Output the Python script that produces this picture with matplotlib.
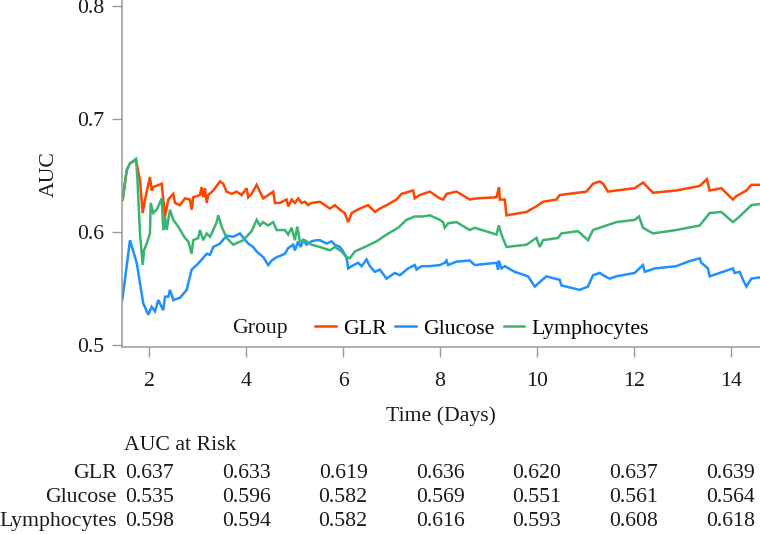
import matplotlib
matplotlib.use("Agg")
import matplotlib.pyplot as plt
from matplotlib.lines import Line2D
from matplotlib.transforms import blended_transform_factory

plt.rcParams['font.family'] = ['Liberation Serif', 'DejaVu Serif']

groups = ["GLR", "Glucose", "Lymphocytes"]
colors = {"GLR": "#FF4500", "Glucose": "#1E90FF", "Lymphocytes": "#3CB371"}

glr_t = [1.452, 1.534, 1.602, 1.726, 1.808, 1.864, 1.911, 2.014, 2.049, 2.082, 2.256, 2.324, 2.392, 2.495, 2.530,
         2.633, 2.736, 2.839, 2.874, 2.907, 3.045, 3.080, 3.113, 3.148, 3.184, 3.216, 3.320, 3.458, 3.526, 3.596,
         3.699, 3.802, 3.905, 4.008, 4.041, 4.111, 4.214, 4.282, 4.351, 4.454, 4.557, 4.592, 4.695, 4.833, 4.866,
         4.936, 5.004, 5.072, 5.142, 5.210, 5.278, 5.348, 5.520, 5.726, 5.829, 5.932, 6.035, 6.103, 6.173, 6.344,
         6.515, 6.654, 6.757, 6.895, 7.101, 7.204, 7.443, 7.478, 7.581, 7.788, 7.994, 8.062, 8.132, 8.338, 8.612,
         8.750, 9.163, 9.216, 9.231, 9.334, 9.369, 9.781, 9.988, 10.124, 10.400, 10.468, 11.019, 11.155, 11.293,
         11.361, 11.464, 11.637, 12.014, 12.186, 12.392, 12.874, 13.355, 13.505, 13.561, 13.802, 14.041, 14.113,
         14.318, 14.421, 14.592]
glr_auc = [0.629, 0.655, 0.661, 0.664, 0.646, 0.617, 0.629, 0.649, 0.637, 0.640, 0.643, 0.614, 0.629, 0.634, 0.626,
           0.624, 0.630, 0.629, 0.620, 0.631, 0.633, 0.640, 0.631, 0.639, 0.626, 0.633, 0.637, 0.645, 0.643, 0.636,
           0.634, 0.636, 0.633, 0.639, 0.631, 0.634, 0.642, 0.636, 0.630, 0.633, 0.636, 0.626, 0.626, 0.629, 0.623,
           0.629, 0.626, 0.630, 0.626, 0.627, 0.624, 0.626, 0.627, 0.621, 0.624, 0.620, 0.617, 0.609, 0.617, 0.621,
           0.624, 0.618, 0.621, 0.624, 0.629, 0.634, 0.637, 0.630, 0.633, 0.636, 0.630, 0.629, 0.634, 0.636, 0.629,
           0.630, 0.631, 0.640, 0.629, 0.629, 0.615, 0.618, 0.623, 0.627, 0.629, 0.633, 0.636, 0.643, 0.645,
           0.643, 0.636, 0.637, 0.639, 0.644, 0.635, 0.637, 0.641, 0.647, 0.637, 0.639, 0.629, 0.632,
           0.637, 0.642, 0.642]

glu_t = [1.443, 1.602, 1.740, 1.808, 1.876, 1.979, 2.049, 2.118, 2.186, 2.289, 2.324, 2.392, 2.427, 2.495, 2.633,
         2.771, 2.874, 2.977, 3.045, 3.184, 3.252, 3.320, 3.458, 3.596, 3.732, 3.870, 4.041, 4.144, 4.214, 4.351,
         4.454, 4.524, 4.627, 4.695, 4.798, 4.866, 4.969, 5.004, 5.072, 5.122, 5.175, 5.245, 5.348, 5.452, 5.520,
         5.658, 5.761, 5.829, 5.932, 6.000, 6.070, 6.103, 6.173, 6.309, 6.379, 6.482, 6.551, 6.654, 6.757, 6.895,
         7.066, 7.169, 7.340, 7.478, 7.513, 7.616, 7.788, 7.994, 8.097, 8.132, 8.165, 8.338, 8.612, 8.715, 9.163,
         9.196, 9.210, 9.266, 9.334, 9.540, 9.814, 9.953, 10.056, 10.194, 10.365, 10.468, 10.503, 10.880, 11.052,
         11.155, 11.293, 11.361, 11.499, 11.637, 12.014, 12.186, 12.221, 12.427, 12.874, 13.113, 13.355, 13.390,
         13.526, 13.561, 14.041, 14.076, 14.181, 14.249, 14.318, 14.421, 14.592]
glu_auc = [0.540, 0.593, 0.573, 0.555, 0.537, 0.527, 0.534, 0.530, 0.540, 0.531, 0.543, 0.543, 0.549, 0.540, 0.542,
           0.549, 0.567, 0.571, 0.574, 0.581, 0.580, 0.587, 0.590, 0.597, 0.596, 0.599, 0.590, 0.587, 0.583, 0.578,
           0.571, 0.575, 0.578, 0.579, 0.581, 0.586, 0.589, 0.584, 0.592, 0.587, 0.593, 0.589, 0.592, 0.593, 0.593,
           0.590, 0.592, 0.589, 0.587, 0.583, 0.578, 0.568, 0.570, 0.573, 0.570, 0.576, 0.570, 0.565, 0.567, 0.559,
           0.564, 0.562, 0.568, 0.571, 0.567, 0.570, 0.570, 0.571, 0.573, 0.575, 0.571, 0.574, 0.575, 0.571, 0.573,
           0.567, 0.575, 0.568, 0.570, 0.565, 0.561, 0.552, 0.556, 0.561, 0.559, 0.558, 0.553, 0.549, 0.552,
           0.562, 0.564, 0.562, 0.559, 0.561, 0.564, 0.571, 0.565, 0.568, 0.570, 0.574, 0.577, 0.573,
           0.568, 0.561, 0.568, 0.564, 0.565, 0.558, 0.552, 0.559, 0.560]

lym_t = [1.452, 1.534, 1.602, 1.726, 1.753, 1.808, 1.864, 1.891, 1.946, 2.014, 2.029, 2.082, 2.153, 2.256, 2.289,
         2.324, 2.359, 2.427, 2.495, 2.598, 2.736, 2.804, 2.874, 2.907, 3.010, 3.045, 3.113, 3.184, 3.252, 3.320,
         3.390, 3.423, 3.493, 3.596, 3.732, 3.938, 4.111, 4.214, 4.282, 4.351, 4.454, 4.557, 4.627, 4.798, 4.866,
         4.936, 5.004, 5.052, 5.107, 5.210, 5.348, 5.520, 5.726, 5.829, 5.967, 6.070, 6.138, 6.241, 6.447, 6.689,
         6.895, 7.134, 7.307, 7.478, 7.649, 7.788, 7.994, 8.062, 8.097, 8.165, 8.338, 8.612, 8.715, 9.163, 9.210,
         9.266, 9.369, 9.781, 9.988, 10.056, 10.124, 10.433, 10.503, 10.845, 11.052, 11.155, 11.293, 11.637, 12.014,
         12.103, 12.186, 12.392, 12.874, 13.355, 13.561, 13.802, 14.041, 14.181, 14.421, 14.592]
lym_auc = [0.629, 0.655, 0.661, 0.665, 0.649, 0.599, 0.571, 0.584, 0.590, 0.599, 0.626, 0.617, 0.620, 0.630, 0.602,
           0.614, 0.602, 0.620, 0.611, 0.605, 0.595, 0.592, 0.581, 0.593, 0.595, 0.602, 0.593, 0.599, 0.596, 0.602,
           0.609, 0.615, 0.605, 0.595, 0.589, 0.593, 0.601, 0.611, 0.606, 0.609, 0.606, 0.609, 0.602, 0.602, 0.598,
           0.604, 0.593, 0.605, 0.592, 0.593, 0.589, 0.587, 0.584, 0.587, 0.583, 0.578, 0.577, 0.583, 0.587, 0.592,
           0.598, 0.604, 0.611, 0.614, 0.614, 0.615, 0.611, 0.609, 0.604, 0.608, 0.609, 0.602, 0.604, 0.598, 0.606,
           0.598, 0.587, 0.589, 0.595, 0.587, 0.593, 0.595, 0.599, 0.601, 0.593, 0.602, 0.604, 0.609, 0.611,
           0.614, 0.604, 0.599, 0.602, 0.606, 0.617, 0.618, 0.609, 0.614, 0.624, 0.625]

risk_times = [2, 4, 6, 8, 10, 12, 14]
risk_glr = ["0.637", "0.633", "0.619", "0.636", "0.620", "0.637", "0.639"]
risk_glu = ["0.535", "0.596", "0.582", "0.569", "0.551", "0.561", "0.564"]
risk_lym = ["0.598", "0.594", "0.582", "0.616", "0.593", "0.608", "0.618"]

y_ticks = [0.5, 0.6, 0.7, 0.8]
x_ticks = [2, 4, 6, 8, 10, 12, 14]

series = {"GLR": (glr_t, glr_auc), "Glucose": (glu_t, glu_auc), "Lymphocytes": (lym_t, lym_auc)}

FS = 15.7
TXT = "#1a1a1a"
W, H = 760, 534
fig = plt.figure(figsize=(W / 100, H / 100), dpi=100)
ax = fig.add_axes([122 / W, 1 - 347.3 / H, 1 - 122 / W, 347.3 / H])

for g in groups:
    t, v = series[g]
    ax.plot(t, v, color=colors[g], lw=1.8, solid_joinstyle='miter')

ax.set_xlim(1.437, 14.6)
ax.set_ylim(0.4982, 0.8056)
ax.set_xticks(x_ticks)
ax.set_yticks(y_ticks)
ax.set_yticklabels([f"{v:.1f}" for v in y_ticks])
for s in ["top", "right"]:
    ax.spines[s].set_visible(False)
for s in ["left", "bottom"]:
    ax.spines[s].set_color("#9a9a9a")
    ax.spines[s].set_linewidth(1.1)
ax.tick_params(axis="both", direction="out", length=7, width=1.0, color="#9a9a9a",
               labelsize=FS, labelcolor=TXT)
ax.tick_params(axis="x", pad=11)
ax.tick_params(axis="y", pad=6)
ax.set_xlabel("Time (Days)", fontsize=FS, color=TXT, labelpad=11)
ax.set_ylabel("AUC", fontsize=FS, color=TXT, labelpad=13)

# legend
ax.text((232 - 122) / 638, 0.054, "Group", transform=ax.transAxes, fontsize=FS,
        color=TXT, va="center", ha="left")
handles = [Line2D([0], [0], color=colors[g], lw=1.8) for g in groups]
ax.legend(handles, groups, loc="center left", bbox_to_anchor=((315 - 122) / 638, 0.054), ncol=3,
          frameon=False, fontsize=FS, handlelength=0.95, handletextpad=0.32, columnspacing=0.42,
          borderpad=0, borderaxespad=0)

# risk table
tr = blended_transform_factory(ax.transData, fig.transFigure)
fig.text(124 / W, 1 - 446 / H, "AUC at Risk", fontsize=FS, color=TXT, ha="left", va="center")
rows = [("GLR", risk_glr, 474), ("Glucose", risk_glu, 498), ("Lymphocytes", risk_lym, 521.5)]
for name, vals, ypx in rows:
    fig.text(117 / W, 1 - ypx / H, name, fontsize=FS, color=TXT, ha="right", va="center")
    for tt, vv in zip(risk_times, vals):
        fig.text(tt, 1 - ypx / H, vv, transform=tr, fontsize=FS, color=TXT, ha="center", va="center")

fig.savefig("out.png", dpi=100)
